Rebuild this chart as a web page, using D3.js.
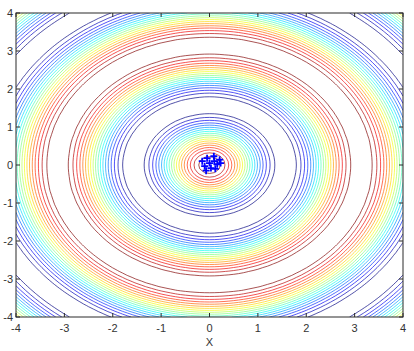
<!DOCTYPE html>
<html>
<head>
<meta charset="UTF-8">
<title>contour</title>
<style>
  body { margin: 0; background: #fff; }
  text { font-family: "Liberation Sans", Arial, sans-serif; font-size: 11px; fill: #333; }
</style>
</head>
<body>
<script src="https://cdn.jsdelivr.net/npm/d3@7/dist/d3.min.js"></script>
<script>
// surface z = cos(k * r), sampled on a square grid
const domain = [-4, 4];
const gridStep = 0.1;
const waveNumber = [2];
const levels = [-0.9, -0.8, -0.7, -0.6, -0.5, -0.4, -0.3, -0.2, -0.1, 0,
                0.1, 0.2, 0.3, 0.4, 0.5, 0.6, 0.7, 0.8, 0.9];
const xTicks = [-4, -3, -2, -1, 0, 1, 2, 3, 4];
const yTicks = [-4, -3, -2, -1, 0, 1, 2, 3, 4];
// blue points near the origin
const ptsX = [-0.15, -0.05, 0.09, 0.21, -0.1, 0.0, 0.03, 0.16, 0.1, -0.07, 0.23, 0.12];
const ptsY = [0.1, 0.18, 0.23, 0.14, -0.03, 0.05, -0.08, 0.02, 0.1, -0.15, 0.05, -0.1];

const W = 414, H = 351;
const x = d3.scaleLinear().domain(domain).range([16, 403]);
const y = d3.scaleLinear().domain(domain).range([317, 13]);

const svg = d3.select("body").append("svg").attr("width", W).attr("height", H);

svg.append("defs").append("clipPath").attr("id", "plot")
  .append("rect").attr("x", 16).attr("y", 13).attr("width", 387).attr("height", 304);

// grid values
const n = Math.round((domain[1] - domain[0]) / gridStep) + 1;
const values = new Array(n * n);
for (let j = 0; j < n; j++) {
  for (let i = 0; i < n; i++) {
    const gx = domain[0] + i * gridStep, gy = domain[0] + j * gridStep;
    values[j * n + i] = Math.cos(waveNumber[0] * Math.sqrt(gx * gx + gy * gy));
  }
}

function jet(t) {
  const c = v => Math.max(0, Math.min(1, v));
  const r = c(1.5 - Math.abs(4 * t - 3)), g = c(1.5 - Math.abs(4 * t - 2)), b = c(1.5 - Math.abs(4 * t - 1));
  return d3.rgb(r * 255, g * 255, b * 255).toString();
}
const lo = d3.min(levels), hi = d3.max(levels);

const contours = d3.contours().size([n, n]).thresholds(levels)(values);
const proj = d3.geoTransform({
  point(px, py) {
    this.stream.point(x(domain[0] + (px - 0.5) * gridStep), y(domain[0] + (py - 0.5) * gridStep));
  }
});
const path = d3.geoPath(proj);

svg.append("g").attr("clip-path", "url(#plot)")
  .selectAll("path").data(contours).join("path")
  .attr("d", path)
  .attr("fill", "none")
  .attr("stroke", d => jet((d.value - lo) / (hi - lo)))
  .attr("stroke-width", 0.8)
  .attr("stroke-opacity", 0.85);

// markers
const pts = ptsX.map((v, i) => [v, ptsY[i]]);
svg.append("g").selectAll("path").data(pts).join("path")
  .attr("d", d => `M${x(d[0]) - 3.5},${y(d[1])}h7M${x(d[0])},${y(d[1]) - 3.5}v7`)
  .attr("stroke", "#0000ff").attr("stroke-width", 1.8).attr("fill", "none");

// axes box and ticks
const axisCol = "#2a2a2a";
svg.append("rect").attr("x", 16).attr("y", 13).attr("width", 387).attr("height", 304)
  .attr("fill", "none").attr("stroke", axisCol).attr("stroke-width", 1);

const tk = 4;
const tg = svg.append("g").attr("stroke", axisCol).attr("stroke-width", 1);
xTicks.forEach(v => {
  tg.append("line").attr("x1", x(v)).attr("x2", x(v)).attr("y1", 317).attr("y2", 317 - tk);
  tg.append("line").attr("x1", x(v)).attr("x2", x(v)).attr("y1", 13).attr("y2", 13 + tk);
});
yTicks.forEach(v => {
  tg.append("line").attr("y1", y(v)).attr("y2", y(v)).attr("x1", 16).attr("x2", 16 + tk);
  tg.append("line").attr("y1", y(v)).attr("y2", y(v)).attr("x1", 403).attr("x2", 403 - tk);
});

svg.append("g").selectAll("text").data(xTicks).join("text")
  .attr("x", d => x(d)).attr("y", 332).attr("text-anchor", "middle").text(d => d);
svg.append("g").selectAll("text").data(yTicks).join("text")
  .attr("x", 13).attr("y", d => y(d) + 4).attr("text-anchor", "end").text(d => d);

svg.append("text").attr("x", x(0)).attr("y", 346).attr("text-anchor", "middle").text("X");
</script>
</body>
</html>
